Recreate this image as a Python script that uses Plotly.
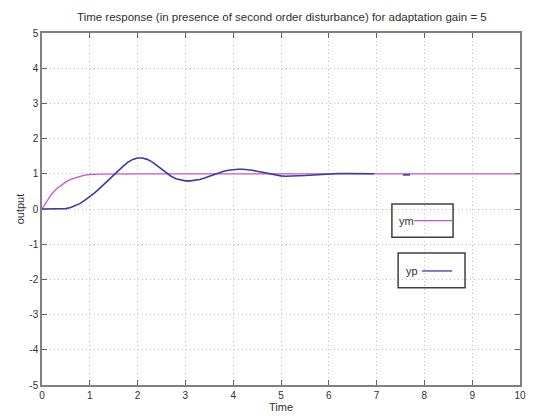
import plotly.graph_objects as go

# ---- data ----
t_ym = [0, 0.1, 0.2, 0.3, 0.4, 0.5, 0.6, 0.7, 0.8, 0.9, 1.0, 1.2, 1.5, 2.0, 10]
ym = [0, 0.22, 0.42, 0.57, 0.68, 0.77, 0.84, 0.89, 0.93, 0.96, 0.98, 0.99, 1.0, 1.0, 1.0]

t_yp = [0, 0.3, 0.5, 0.6, 0.7, 0.8, 0.9, 1.0, 1.1, 1.2, 1.3, 1.4, 1.5, 1.6, 1.7, 1.8, 1.9,
        2.0, 2.1, 2.2, 2.3, 2.4, 2.5, 2.6, 2.7, 2.8, 2.9, 3.0, 3.1, 3.2, 3.3, 3.4, 3.5,
        3.6, 3.7, 3.8, 3.9, 4.0, 4.1, 4.2, 4.3, 4.4, 4.5, 4.6, 4.7, 4.8, 4.9, 5.0, 5.1,
        5.2, 5.3, 5.4, 5.5, 5.6, 5.7, 5.8, 5.9, 6.0, 6.2, 6.4, 6.6, 6.8, 6.95, None,
        7.55, 7.7]
yp = [0, 0, 0.01, 0.04, 0.09, 0.16, 0.25, 0.35, 0.46, 0.58, 0.71, 0.85, 0.98, 1.1, 1.22, 1.33, 1.41,
      1.45, 1.45, 1.41, 1.34, 1.24, 1.13, 1.02, 0.93, 0.86, 0.82, 0.80, 0.80, 0.81, 0.84, 0.88, 0.93,
      0.98, 1.03, 1.07, 1.10, 1.12, 1.13, 1.13, 1.12, 1.10, 1.07, 1.04, 1.01, 0.98, 0.96, 0.94, 0.93,
      0.93, 0.93, 0.94, 0.95, 0.96, 0.97, 0.98, 0.99, 1.0, 1.01, 1.01, 1.01, 1.0, 1.0, None,
      0.97, 0.97]

x_ticks = list(range(0, 11))
y_ticks = list(range(-5, 6))

title_text = "Time response (in presence of second order disturbance) for adaptation gain = 5"
legend_labels = ["ym", "yp"]
ym_color = "#cc55cc"
yp_color = "#3a3aaa"

FONT = "Liberation Sans Narrow, Arial Narrow, Liberation Sans, Arial, sans-serif"

fig = go.Figure()
fig.add_trace(go.Scatter(x=t_ym, y=ym, mode="lines", line=dict(color=ym_color, width=1.3),
                         name="ym", showlegend=False))
fig.add_trace(go.Scatter(x=t_yp, y=yp, mode="lines", line=dict(color=yp_color, width=1.6),
                         name="yp", showlegend=False, connectgaps=False))

axis_common = dict(
    showline=True, linecolor="#808080", linewidth=1.5, mirror="ticks",
    ticks="inside", ticklen=5, tickcolor="#606060",
    showgrid=True, gridcolor="#bdbdbd", griddash="1px,3px", gridwidth=1,
    zeroline=False, tickfont=dict(family=FONT, size=10, color="#303030"),
    automargin=False,
)

fig.update_xaxes(range=[0, 10], tickvals=x_ticks, ticktext=[str(v) for v in x_ticks],
                 title=dict(text="Time", font=dict(family=FONT, size=11, color="#303030"), standoff=2),
                 **axis_common)
fig.update_yaxes(range=[-5, 5], tickvals=y_ticks, ticktext=[str(v) for v in y_ticks],
                 title=dict(text="output", font=dict(family=FONT, size=11, color="#303030"), standoff=2),
                 **axis_common)

# legend boxes drawn like the MATLAB ones (text then line sample)
shapes = [
    dict(type="rect", xref="paper", yref="paper", x0=0.732, x1=0.860, y0=0.420, y1=0.514,
         line=dict(color="#404040", width=1.5), fillcolor="rgba(255,255,255,0)"),
    dict(type="line", xref="paper", yref="paper", x0=0.778, x1=0.858, y0=0.467, y1=0.467,
         line=dict(color=ym_color, width=1.3)),
    dict(type="rect", xref="paper", yref="paper", x0=0.745, x1=0.885, y0=0.276, y1=0.375,
         line=dict(color="#404040", width=1.5), fillcolor="rgba(255,255,255,0)"),
    dict(type="line", xref="paper", yref="paper", x0=0.795, x1=0.858, y0=0.324, y1=0.324,
         line=dict(color=yp_color, width=1.3)),
]
annotations = [
    dict(text=legend_labels[0], xref="paper", yref="paper", x=0.742, y=0.467, xanchor="left",
         yanchor="middle", showarrow=False, font=dict(family=FONT, size=11, color="#303030")),
    dict(text=legend_labels[1], xref="paper", yref="paper", x=0.758, y=0.324, xanchor="left",
         yanchor="middle", showarrow=False, font=dict(family=FONT, size=11, color="#303030")),
]

# page body has an 8px margin, so the figure is sized to fill the rest of the window
fig.update_layout(
    width=537, height=411,
    margin=dict(l=34, r=25, t=25, b=34),
    paper_bgcolor="white", plot_bgcolor="white",
    title=dict(text=title_text, x=0.51, xanchor="center", y=0.978, yanchor="middle",
               font=dict(family=FONT, size=11.5, color="#303030")),
    shapes=shapes, annotations=annotations,
)

fig.write_html("out.html")
